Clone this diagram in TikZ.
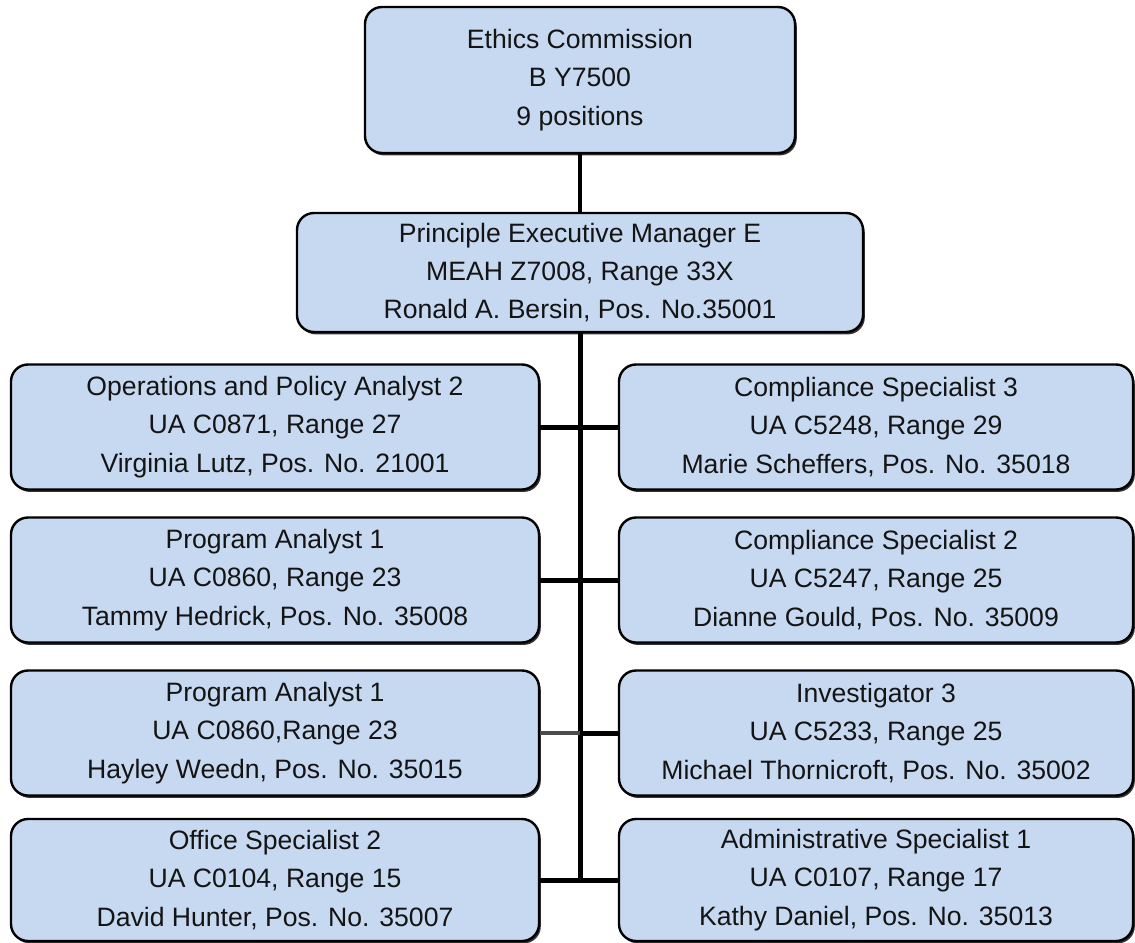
\documentclass[tikz,border=0pt]{standalone}
\usepackage{fontspec}
\setmainfont{Liberation Sans}
\usetikzlibrary{shadows}
\definecolor{boxblue}{HTML}{C6D9F1}
\definecolor{txt}{HTML}{141414}
\begin{document}
\begin{tikzpicture}[x=1bp,y=-1bp,
  orgbox/.style={draw=black, line width=2.4bp, fill=boxblue, rounded corners=17bp,
    align=center, text=txt, inner sep=0pt, font=\fontsize{26.7}{38.5}\selectfont,
    drop shadow={shadow xshift=1.8bp, shadow yshift=-2.4bp, fill=black!80, opacity=1}},
  lbox/.style={orgbox, minimum width=528bp},
  rbox/.style={orgbox, minimum width=514bp},
  conn/.style={draw=black, line width=5bp},
  thinconn/.style={draw=black!70, line width=3.2bp}]
\useasboundingbox (0,0) rectangle (1135,943);

\node[orgbox, minimum width=430bp, minimum height=146bp] (ec) at (580,80)
  {Ethics Commission\\B Y7500\\9 positions};
\node[orgbox, minimum width=566bp, minimum height=119bp] (pem) at (580,272.5)
  {Principle Executive Manager E\\MEAH Z7008, Range 33X\\Ronald A. Bersin, Pos. No.35001};

\node[lbox, minimum height=125bp] (l1) at (275,427)
  {Operations and Policy Analyst 2\\UA C0871, Range 27\\Virginia Lutz, Pos. No. 21001};
\node[lbox, minimum height=125bp] (l2) at (275,580)
  {Program Analyst 1\\UA C0860, Range 23\\Tammy Hedrick, Pos. No. 35008};
\node[lbox, minimum height=125bp] (l3) at (275,733)
  {Program Analyst 1\\UA C0860,Range 23\\Hayley Weedn, Pos. No. 35015};
\node[lbox, minimum height=122bp] (l4) at (275,880)
  {Office Specialist 2\\UA C0104, Range 15\\David Hunter, Pos. No. 35007};

\node[rbox, minimum height=125bp] (r1) at (876,427)
  {Compliance Specialist 3\\UA C5248, Range 29\\Marie Scheffers, Pos. No. 35018};
\node[rbox, minimum height=125bp] (r2) at (876,580)
  {Compliance Specialist 2\\UA C5247, Range 25\\Dianne Gould, Pos. No. 35009};
\node[rbox, minimum height=125bp] (r3) at (876,733)
  {Investigator 3\\UA C5233, Range 25\\Michael Thornicroft, Pos. No. 35002};
\node[rbox, minimum height=122bp] (r4) at (876,880)
  {Administrative Specialist 1\\UA C0107, Range 17\\Kathy Daniel, Pos. No. 35013};

\coordinate (tb) at (580,882);
\coordinate (j3) at (580,733);

\draw[conn, line width=3.8bp] (ec.south) -- (pem.north);
\draw[conn] (pem.south) -- (tb);
\draw[conn] (l1.east) -- (r1.west);
\draw[conn] (l2.east) -- (r2.west);
\draw[thinconn] (l3.east) -- (j3);
\draw[conn] (j3) -- (r3.west);
\draw[conn] (l4.east) -- (r4.west);
\end{tikzpicture}
\end{document}
